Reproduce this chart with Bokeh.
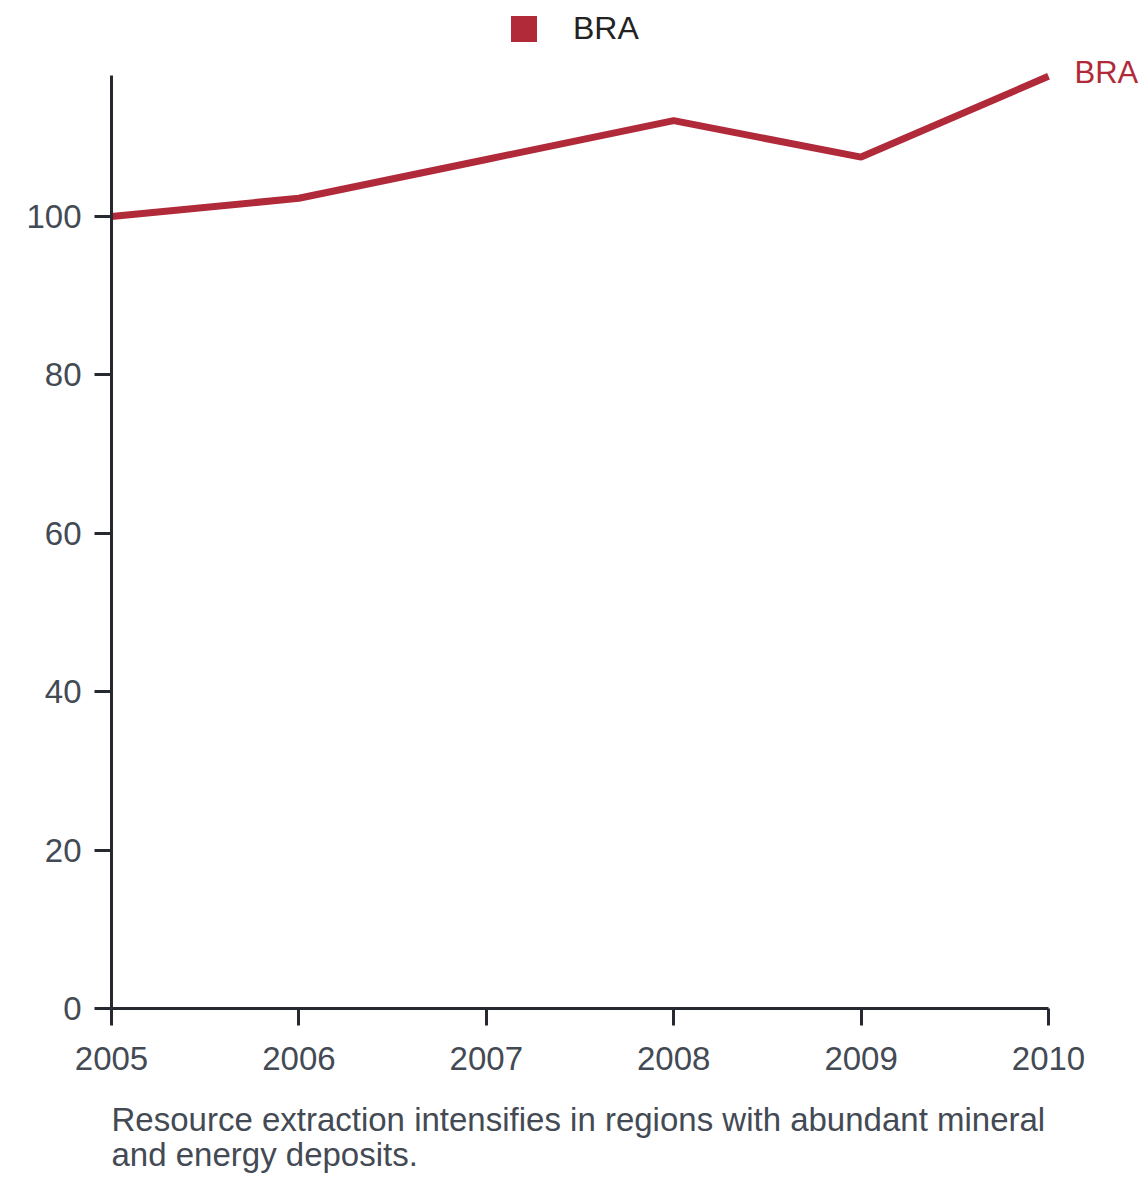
from bokeh.plotting import figure
from bokeh.models import Range1d, FixedTicker, Legend, LegendItem, Label, LinearAxis
from bokeh.embed import file_html
from bokeh.resources import INLINE

years = [2005, 2006, 2007, 2008, 2009, 2010]
bra = [100.0, 102.3, 107.2, 112.1, 107.5, 117.7]
y_ticks = [0, 20, 40, 60, 80, 100]
y_top = 117.8
series_name = "BRA"
caption_lines = ["Resource extraction intensifies in regions with abundant mineral",
                 "and energy deposits."]

RED = "#b12a3a"
AXIS = "#262a30"
GRAY = "#434a54"
FONT = "Liberation Sans"

# layout (pixels): plot area inside the canvas
W, H = 1140, 1182
LEFT, RIGHT, TOP, BOTTOM = 111, 1048, 75, 1008
xs = (RIGHT - LEFT) / (years[-1] - years[0])
ys = (BOTTOM - TOP) / y_top
x_range = Range1d(years[0] - LEFT / xs, years[-1] + (W - RIGHT) / xs)
y_range = Range1d(0 - (H - BOTTOM) / ys, y_top + TOP / ys)

p = figure(width=W, height=H, output_backend="svg", toolbar_location=None,
           x_range=x_range, y_range=y_range, x_axis_type=None, y_axis_type=None,
           min_border_left=0, min_border_right=0, min_border_top=0, min_border_bottom=0)
p.outline_line_color = None
p.xgrid.visible = False
p.ygrid.visible = False
p.background_fill_color = "white"
p.border_fill_color = "white"

xaxis = LinearAxis(fixed_location=0, bounds=(years[0], years[-1]),
                   ticker=FixedTicker(ticks=years), major_label_standoff=21)
yaxis = LinearAxis(fixed_location=years[0], bounds=(0, y_top),
                   ticker=FixedTicker(ticks=y_ticks), major_label_standoff=13)
for ax in (xaxis, yaxis):
    ax.axis_line_color = AXIS
    ax.axis_line_width = 3
    ax.major_tick_line_color = AXIS
    ax.major_tick_line_width = 3
    ax.major_tick_out = 17
    ax.major_tick_in = 0
    ax.minor_tick_out = 0
    ax.minor_tick_in = 0
    ax.major_label_text_font = FONT
    ax.major_label_text_font_size = "33px"
    ax.major_label_text_color = GRAY
p.add_layout(xaxis, "below")
p.add_layout(yaxis, "left")

line = p.line(years, bra, line_color=RED, line_width=7, level="underlay")

# legend swatch renderer (zero size in plot area; legend draws a square)
swatch = p.scatter(years, bra, marker="square", size=0, fill_color=RED, line_color=None)
legend = Legend(items=[LegendItem(label=series_name, renderers=[swatch])],
                orientation="horizontal", location=(491, H - 61),
                glyph_width=65, glyph_height=65, label_standoff=17,
                padding=0, margin=0, border_line_alpha=0, background_fill_alpha=0,
                label_text_font=FONT, label_text_font_size="32px", label_text_color="#222222",
                label_text_baseline="middle")
p.add_layout(legend, "center")

# end label
p.add_layout(Label(x=years[-1], y=bra[-1], text=series_name, x_offset=26, y_offset=4,
                   text_baseline="middle", text_align="left", text_color=RED,
                   text_font=FONT, text_font_size="31px"))

for i, txt in enumerate(caption_lines):
    p.add_layout(Label(x=LEFT, y=H - 1119 - 35 * i, x_units="screen", y_units="screen",
                       text=txt, text_font=FONT, text_font_size="33px",
                       text_color=GRAY, text_baseline="alphabetic", text_align="left"))

open("out.html", "w").write(file_html(p, INLINE))
